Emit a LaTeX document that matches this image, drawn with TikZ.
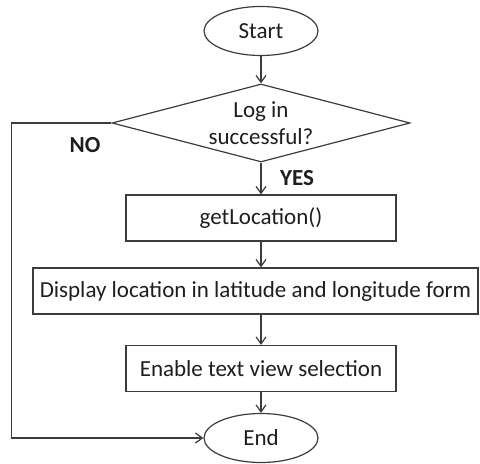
\documentclass[tikz,border=0pt]{standalone}
\usepackage{fontspec}
\setmainfont{Carlito}
\usepackage{tikz}
\usetikzlibrary{shapes.geometric,arrows.meta}
\definecolor{linegray}{RGB}{60,60,60}
\definecolor{textgray}{RGB}{30,30,30}

\begin{document}
\begin{tikzpicture}[x=0.5bp, y=-0.5bp, line width=0.6bp,
        every node/.style={font=\fontsize{11.5bp}{13.5bp}\selectfont, text=textgray},
        terminal/.style={ellipse, draw=linegray, minimum width=57bp, minimum height=24.5bp, inner sep=0pt},
        decision/.style={diamond, draw=linegray, minimum width=149bp, minimum height=39bp, inner sep=0pt},
        process/.style={rectangle, draw=linegray, minimum width=135bp, minimum height=23bp, inner sep=0pt},
        flow/.style={draw=linegray, -{Straight Barb[length=3.5bp, width=5bp]}},
        answer/.style={font=\fontsize{11.5bp}{13.5bp}\selectfont\bfseries}]
        \useasboundingbox (0,0) rectangle (480,464);

        % Nodos
        \node[terminal] (start) at (261,31) {Start};
        \node[decision, label={[align=center]center:Log in\\successful?}] (login) at (261,123) {};
        \node[process] (getloc) at (261,218) {getLocation()};
        \node[process, minimum width=222.5bp] (display) at (255.5,291) {Display location in latitude and longitude form};
        \node[process] (enable) at (261,368.5) {Enable text view selection};
        \node[terminal] (end) at (261,438) {End};

        % Flechas
        \draw[flow] (start) -- (login);
        \draw[flow] (login) -- (getloc);
        \draw[flow] (getloc) -- (getloc |- display.north);
        \draw[flow] (display.south -| enable.north) -- (enable);
        \draw[flow] (enable) -- (end);
        \draw[flow] (login.west) -- ++(-100,0) |- (end.west);

        % Respuestas
        \node[answer] (no) at (85,145) {NO};
        \node[answer] (yes) at (297,178) {YES};
    \end{tikzpicture}
\end{document}
